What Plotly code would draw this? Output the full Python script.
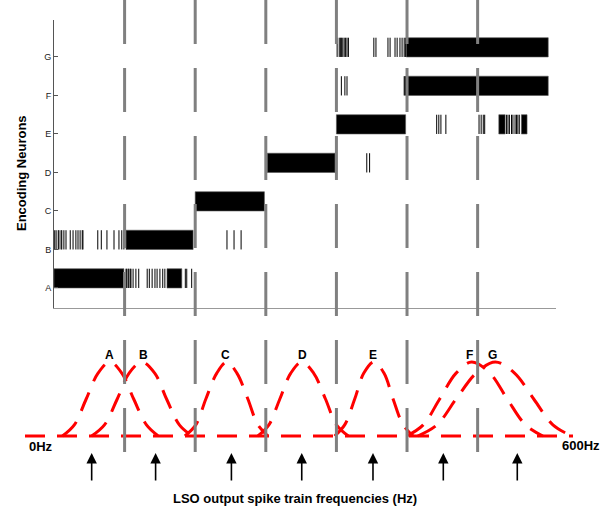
import plotly.graph_objects as go

# ---------------- data ----------------
neurons = ["A", "B", "C", "D", "E", "F", "G"]
period_bounds = [1, 2, 3, 4, 5, 6]

# solid (saturated) firing blocks: row index, start, end (stimulus-period units)
block_rows = [0, 0, 1, 2, 3, 4, 5, 6, 4, 4]
block_start = [0.0, 1.60, 1.02, 2.0, 3.02, 4.0, 5.01, 4.99, 6.30, 6.62]
block_end = [0.99, 1.81, 1.97, 2.98, 3.98, 4.98, 7.0, 7.0, 6.39, 6.70]

spikes_A = [1.02, 1.03, 1.05, 1.06, 1.08, 1.09, 1.12, 1.16, 1.20, 1.32, 1.35, 1.39,
            1.43, 1.46, 1.50, 1.54, 1.57, 1.86, 1.88, 1.95]
spikes_B = [0.01, 0.03, 0.06, 0.07, 0.10, 0.11, 0.14, 0.17, 0.23, 0.27, 0.31, 0.34,
            0.37, 0.40, 0.41, 0.62, 0.67, 0.75, 0.85, 0.92, 0.96, 0.99, 2.45, 2.55, 2.65]
spikes_C = []
spikes_D = [4.43, 4.47]
spikes_E = [5.42, 5.45, 5.48, 5.55, 6.02, 6.05, 6.08, 6.10, 6.41, 6.43, 6.45, 6.48,
            6.50, 6.53, 6.55, 6.57, 6.59]
spikes_F = [4.07, 4.12, 4.15, 4.96, 4.97, 4.98]
spikes_G = [4.01, 4.04, 4.06, 4.07, 4.09, 4.11, 4.13, 4.15, 4.17, 4.53, 4.56, 4.73,
            4.76, 4.83, 4.86, 4.90, 4.93, 4.96, 4.98]
spike_rows = [spikes_A, spikes_B, spikes_C, spikes_D, spikes_E, spikes_F, spikes_G]

# tuning curves (Hz), with relative response levels
curve_levels = [0, 0.15, 0.5, 0.85, 1, 0.85, 0.5, 0.15, 0]
curve_A = [41, 54, 67, 80, 93, 106, 119, 133, 146]
curve_B = [73, 87, 101, 114, 128, 142, 155, 169, 183]
curve_C = [175, 187, 198, 210, 221, 232, 244, 255, 266]
curve_D = [255, 267, 279, 291, 303, 316, 329, 341, 354]
curve_E = [339, 350, 361, 371, 382, 393, 403, 414, 425]
curve_F = [418, 436, 454, 472, 489, 509, 528, 548, 567]
curve_G = [430, 451, 472, 494, 515, 536, 557, 578, 599]
curves = [curve_A, curve_B, curve_C, curve_D, curve_E, curve_F, curve_G]
label_hz = [92, 130, 220, 304, 381, 487, 512]

arrow_hz = [73, 143, 226, 303, 381, 458, 539]

# ---------------- figure ----------------
W, H = 615, 510
fig = go.Figure()

# raster blocks
fig.add_trace(go.Bar(
    orientation="h",
    y=[r + 0.25 for r in block_rows],
    base=block_start,
    x=[e - s for s, e in zip(block_start, block_end)],
    width=0.5,
    marker=dict(color="black", line=dict(width=0.6, color="#555")),
    xaxis="x", yaxis="y", showlegend=False, hoverinfo="skip",
))

# individual spikes
sx, sy = [], []
for r, row in enumerate(spike_rows):
    for t in row:
        sx += [t, t, None]
        sy += [r, r + 0.5, None]
fig.add_trace(go.Scatter(x=sx, y=sy, mode="lines", line=dict(color="black", width=1),
                         xaxis="x", yaxis="y", showlegend=False, hoverinfo="skip"))

# bottom baseline
fig.add_trace(go.Scatter(x=[0, 600], y=[0, 0], mode="lines",
                         line=dict(color="#ff0000", width=3, dash="20px,12px"),
                         xaxis="x2", yaxis="y2", showlegend=False, hoverinfo="skip"))
for c in curves:
    fig.add_trace(go.Scatter(x=c, y=curve_levels, mode="lines",
                             line=dict(color="#ff0000", width=3, dash="20px,12px",
                                       shape="spline", smoothing=1),
                             xaxis="x2", yaxis="y2", showlegend=False, hoverinfo="skip"))

# gray period separators, spanning the whole figure
for b in period_bounds:
    fig.add_shape(type="line", xref="x", yref="paper", x0=b, x1=b,
                  y0=1, y1=1 - 453 / H,
                  line=dict(color="#808080", width=3, dash="44px,24px"), layer="above")

annotations = []
for name, hx in zip(neurons, label_hz):
    annotations.append(dict(xref="x2", yref="y2", x=hx, y=1.1, text="<b>" + name + "</b>",
                            showarrow=False, font=dict(size=12, color="black")))
for hx in arrow_hz:
    annotations.append(dict(xref="x2", yref="y2", x=hx, y=-0.23, ax=0, ay=29, text="",
                            showarrow=True, arrowhead=2, arrowsize=1.3, arrowwidth=1.6,
                            arrowcolor="black"))
annotations.append(dict(xref="x2", yref="y2", x=2, y=-0.14, xanchor="left", text="<b>0Hz</b>",
                        showarrow=False, font=dict(size=13, color="black")))
annotations.append(dict(xref="x2", yref="y2", x=586, y=-0.13, xanchor="left", text="<b>600Hz</b>",
                        showarrow=False, font=dict(size=13, color="black")))
annotations.append(dict(xref="paper", yref="paper", x=295 / W, y=1 - 498 / H,
                        xanchor="center", yanchor="middle",
                        text="<b>LSO output spike train frequencies (Hz)</b>",
                        showarrow=False, font=dict(size=13, color="black")))
annotations.append(dict(xref="paper", yref="paper", x=21 / W, y=1 - 173 / H, textangle=-90,
                        xanchor="center", yanchor="middle",
                        text="<b>Encoding Neurons</b>",
                        showarrow=False, font=dict(size=13, color="black")))

fig.update_layout(
    width=W, height=H,
    margin=dict(l=0, r=0, t=0, b=0),
    paper_bgcolor="white", plot_bgcolor="white",
    font=dict(family="Liberation Sans, Arial, sans-serif"),
    barmode="overlay",
    xaxis=dict(domain=[54 / W, 556 / W], range=[0, 7.11], showline=True, linecolor="#999",
               linewidth=1.2, showticklabels=False, ticks="", showgrid=False, zeroline=False,
               anchor="y", automargin=False),
    yaxis=dict(domain=[1 - 308 / H, 1 - 20 / H], range=[-0.52, 6.96], showline=True,
               linecolor="#555", linewidth=1, tickvals=list(range(7)), ticktext=neurons,
               ticks="inside", ticklen=4, tickcolor="#555",
               tickfont=dict(size=9, color="#222"), showgrid=False, zeroline=False,
               anchor="x", automargin=False),
    xaxis2=dict(domain=[(25 - 20 * 548 / 600) / W, (573 + 20 * 548 / 600) / W],
                range=[-20, 620], visible=False, anchor="y2"),
    yaxis2=dict(domain=[1 - 473 / H, 1 - 325 / H], range=[-0.5, 1.5], visible=False,
                anchor="x2"),
    annotations=annotations,
)

fig.write_html("out.html", config={"displayModeBar": False},
               post_script="document.body.style.margin='0';")
